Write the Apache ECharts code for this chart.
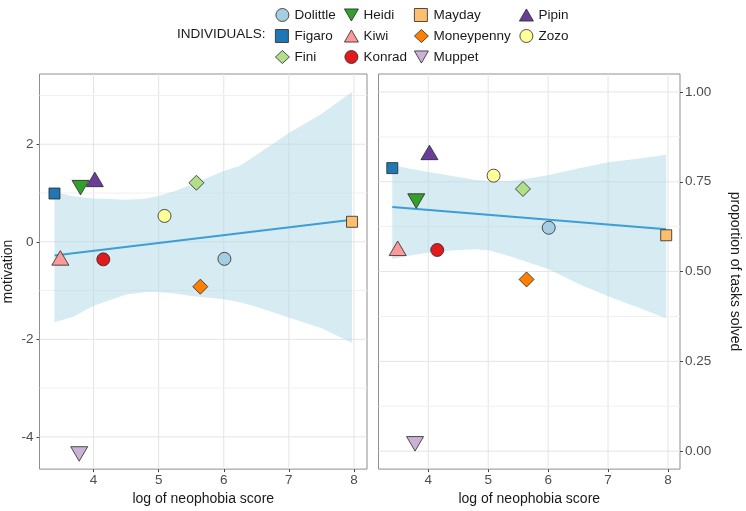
<!DOCTYPE html>
<html>
<head>
<meta charset="utf-8">
<script src="https://cdn.jsdelivr.net/npm/echarts@6/dist/echarts.min.js"></script>
<style>
  html, body { margin: 0; padding: 0; background: #fff; }
  #chart { width: 746px; height: 511px; }
</style>
</head>
<body>
<div id="chart"></div>
<script>
// individuals, in legend order
const names = ['Dolittle', 'Figaro', 'Fini', 'Heidi', 'Kiwi', 'Konrad', 'Mayday', 'Moneypenny', 'Muppet', 'Pipin', 'Zozo']
const fills = ['#A6CEE3', '#1F78B4', '#B2DF8A', '#33A02C', '#FB9A99', '#E31A1C', '#FDBF6F', '#FF7F00', '#CAB2D6', '#6A3D9A', '#FFFF99']
const shapes = ['circle', 'square', 'diamond', 'down', 'up', 'circle', 'square', 'diamond', 'down', 'up', 'circle']

// values
const neophobia = [6.01, 3.40, 5.58, 3.80, 3.49, 4.15, 7.97, 5.64, 3.78, 4.02, 5.09]
const motivation = [-0.35, 0.99, 1.21, 1.16, -0.38, -0.36, 0.41, -0.92, -4.30, 1.23, 0.53]
const propSolved = [0.622, 0.788, 0.730, 0.703, 0.558, 0.560, 0.601, 0.478, 0.027, 0.825, 0.767]

// fitted lines and their bands
const fitX = [3.40, 7.97]
const motFit = [-0.28, 0.45]
const propFit = [0.680, 0.618]
const bandX = [3.40, 3.7, 4.0, 4.5, 4.8, 5.0, 5.25, 5.5, 6.0, 6.25, 6.5, 7.0, 7.5, 7.97]
const motUpper = [1.02, 0.93, 0.89, 0.86, 0.88, 0.94, 1.04, 1.17, 1.45, 1.56, 1.78, 2.23, 2.62, 3.07]
const motLower = [-1.65, -1.53, -1.31, -1.08, -1.03, -1.03, -1.06, -1.11, -1.18, -1.24, -1.33, -1.55, -1.77, -2.07]
const propUpper = [0.796, 0.786, 0.777, 0.763, 0.755, 0.752, 0.751, 0.754, 0.768, 0.778, 0.787, 0.804, 0.814, 0.825]
const propLower = [0.535, 0.545, 0.553, 0.560, 0.562, 0.559, 0.548, 0.535, 0.507, 0.487, 0.466, 0.431, 0.400, 0.370]

// ticks
const xTicks = [4, 5, 6, 7, 8]
const motTicks = [-4, -2, 0, 2]
const motMinor = [-3, -1, 1, 3]
const propTicks = [0, 0.25, 0.5, 0.75, 1]
const propMinor = [0.125, 0.375, 0.625, 0.875]

const legendCols = [
  ['Dolittle', 'Figaro', 'Fini'],
  ['Heidi', 'Kiwi', 'Konrad'],
  ['Mayday', 'Moneypenny', 'Muppet'],
  ['Pipin', 'Zozo']
]

const FONT = '"Liberation Sans", Arial, sans-serif'
const BORDER = '#8f8f8f'
const TICK = '#444444'
const MAJOR = '#e4e4e4'
const MINOR = '#f0f0f0'

const symbols = {
  circle: { symbol: 'circle', size: 13, offset: [0, 0] },
  square: { symbol: 'square', size: 11, offset: [0, 0] },
  diamond: { symbol: 'diamond', size: 15, offset: [0, 0] },
  up: { symbol: 'path://M1,0 L2,1.732 L0,1.732 Z', size: [17, 14.5], offset: [0, -2.4] },
  down: { symbol: 'path://M0,0 L2,0 L1,1.732 Z', size: [17, 14.5], offset: [0, 2.4] }
}

const chart = echarts.init(document.getElementById('chart'))

// grid lines drawn through the axis scales
function vLines(values, gi, yAny) {
  return {
    type: 'custom', xAxisIndex: gi, yAxisIndex: gi, silent: true, z: 1,
    data: values.map(v => [v, yAny]),
    renderItem(params, api) {
      const cs = params.coordSys
      const x = api.coord([api.value(0), yAny])[0]
      return { type: 'line', shape: { x1: x, y1: cs.y, x2: x, y2: cs.y + cs.height }, style: { stroke: MAJOR, lineWidth: 1 } }
    }
  }
}
function hLines(values, gi, color) {
  return {
    type: 'custom', xAxisIndex: gi, yAxisIndex: gi, silent: true, z: 1,
    data: values.map(v => [5, v]),
    renderItem(params, api) {
      const cs = params.coordSys
      const y = api.coord([5, api.value(1)])[1]
      return { type: 'line', shape: { x1: cs.x, y1: y, x2: cs.x + cs.width, y2: y }, style: { stroke: color, lineWidth: 1 } }
    }
  }
}

function band(gi, lower, upper) {
  return {
    type: 'custom', xAxisIndex: gi, yAxisIndex: gi, silent: true, z: 2,
    data: bandX.map((x, i) => [x, lower[i], upper[i]]),
    renderItem(params, api) {
      if (params.dataIndex !== 0) return
      const pts = []
      bandX.forEach((x, i) => pts.push(api.coord([x, upper[i]])))
      for (let i = bandX.length - 1; i >= 0; i--) pts.push(api.coord([bandX[i], lower[i]]))
      return { type: 'polygon', shape: { points: pts }, style: { fill: 'rgba(173,216,230,0.5)' } }
    }
  }
}

function fitLine(gi, ys) {
  return {
    type: 'line', xAxisIndex: gi, yAxisIndex: gi, silent: true, z: 3,
    showSymbol: false, symbol: 'none',
    data: fitX.map((x, i) => [x, ys[i]]),
    lineStyle: { color: '#3c9fd4', width: 2 }
  }
}

const series = [
  vLines(xTicks, 0, 0), hLines(motTicks, 0, MAJOR), hLines(motMinor, 0, MINOR),
  vLines(xTicks, 1, 0.5), hLines(propTicks, 1, MAJOR), hLines(propMinor, 1, MINOR),
  band(0, motLower, motUpper), band(1, propLower, propUpper),
  fitLine(0, motFit), fitLine(1, propFit)
]

names.forEach((n, i) => {
  const s = symbols[shapes[i]]
  const base = {
    type: 'scatter', name: n, z: 5,
    symbol: s.symbol, symbolSize: s.size, symbolOffset: s.offset,
    itemStyle: { color: fills[i], borderColor: '#262626', borderWidth: 0.8, opacity: 1 },
    emphasis: { disabled: true }
  }
  series.push(Object.assign({}, base, { xAxisIndex: 0, yAxisIndex: 0, data: [[neophobia[i], motivation[i]]] }))
  series.push(Object.assign({}, base, { xAxisIndex: 1, yAxisIndex: 1, data: [[neophobia[i], propSolved[i]]] }))
})

const tickLabel = { fontSize: 13.5, color: '#4d4d4d', fontFamily: FONT }
const axisTitle = { fontSize: 14, color: '#1a1a1a', fontFamily: FONT }

function xAxis(gi) {
  return {
    type: 'value', gridIndex: gi, min: 3.17, max: 8.2,
    name: 'log of neophobia score', nameLocation: 'middle', nameGap: 19, nameTextStyle: axisTitle,
    axisLine: { show: false, onZero: false },
    axisTick: { show: true, length: 3, customValues: xTicks, lineStyle: { color: TICK } },
    axisLabel: { customValues: xTicks, margin: 4, ...tickLabel },
    splitLine: { show: false }
  }
}

chart.setOption({
  animation: false,
  textStyle: { fontFamily: FONT },
  graphic: [{
    type: 'text', x: 177, y: 34,
    style: { text: 'INDIVIDUALS:', fontSize: 13.5, fontFamily: FONT, fill: '#1a1a1a', verticalAlign: 'middle' }
  }],
  legend: legendCols.map((col, i) => ({
    orient: 'vertical', left: [275, 344, 414, 519][i], top: 8, padding: 0,
    itemGap: 7, itemWidth: 14, itemHeight: 13, selectedMode: false,
    itemStyle: { borderWidth: 0.8, borderColor: '#262626' },
    data: col, textStyle: { fontSize: 13.5, color: '#1a1a1a', fontFamily: FONT, lineHeight: 13 }
  })),
  grid: [
    { left: 39.5, top: 74, width: 327.5, height: 400, show: true, borderColor: BORDER, borderWidth: 1, backgroundColor: 'transparent' },
    { left: 378.5, top: 74, width: 301.5, height: 400, show: true, borderColor: BORDER, borderWidth: 1, backgroundColor: 'transparent' }
  ],
  xAxis: [xAxis(0), xAxis(1)],
  yAxis: [
    {
      type: 'value', gridIndex: 0, min: -4.66, max: 3.44, position: 'left',
      name: 'motivation', nameLocation: 'middle', nameGap: 24, nameTextStyle: axisTitle,
      axisLine: { show: false, onZero: false },
      axisTick: { show: true, length: 3, customValues: motTicks, lineStyle: { color: TICK } },
      axisLabel: { customValues: motTicks, margin: 6, ...tickLabel },
      splitLine: { show: false }
    },
    {
      type: 'value', gridIndex: 1, min: -0.05, max: 1.05, position: 'right',
      name: 'proportion of tasks solved', nameLocation: 'middle', nameGap: 48, nameRotate: -90, nameTextStyle: axisTitle,
      axisLine: { show: false, onZero: false },
      axisTick: { show: true, length: 3, customValues: propTicks, lineStyle: { color: TICK } },
      axisLabel: { customValues: propTicks, margin: 5, formatter: v => v.toFixed(2), ...tickLabel },
      splitLine: { show: false }
    }
  ],
  series: series
})
</script>
</body>
</html>
